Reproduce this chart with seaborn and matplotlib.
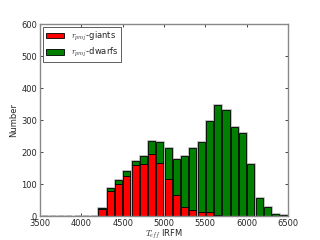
import matplotlib
matplotlib.use("Agg")
import matplotlib.pyplot as plt
from matplotlib.patches import Patch
import numpy as np
import pandas as pd
import seaborn as sns

# histogram bins: 100 K wide from 3500 to 6500
bin_edges = list(range(3500, 6600, 100))
bin_centers = [e + 50 for e in bin_edges[:-1]]

# counts (stacked: giants at the bottom, dwarfs on top)
giants = [0, 0, 0, 0, 0, 0, 0,
          21, 77, 99, 125, 159, 164, 195, 167, 115, 66, 27, 20, 13, 13, 4, 1,
          0, 0, 0, 0, 0, 0, 0]
dwarfs = [0, 0, 0, 0, 0, 0, 0,
          4, 11, 15, 15, 14, 25, 40, 64, 99, 111, 161, 192, 219, 283, 342, 329,
          279, 258, 164, 56, 28, 7, 4]

sns.set_style("ticks")
plt.rcParams["font.family"] = ["DejaVu Sans"]
plt.rcParams["mathtext.fontset"] = "cm"

df = pd.DataFrame({
    "teff": bin_centers * 2,
    "count": giants + dwarfs,
    "group": ["giants"] * len(giants) + ["dwarfs"] * len(dwarfs),
})
total = pd.DataFrame({"teff": bin_centers,
                      "count": [g + d for g, d in zip(giants, dwarfs)]})

fig = plt.figure(figsize=(3.2, 2.4), dpi=100)
ax = fig.add_axes([0.125, 0.1, 0.775, 0.8])

# grey outline behind the stacked bars
sns.histplot(data=total, x="teff", weights="count", bins=bin_edges, shrink=0.85,
             color="#aaaaaa", edgecolor="#aaaaaa", linewidth=1.8, alpha=1, ax=ax)
sns.histplot(data=df, x="teff", weights="count", hue="group",
             hue_order=["dwarfs", "giants"], multiple="stack", bins=bin_edges,
             shrink=0.85, palette={"giants": "red", "dwarfs": "green"},
             edgecolor="black", linewidth=0.6, alpha=1, legend=False, ax=ax)

ax.set_xlim(3500, 6500)
ax.set_ylim(0, 600)
ax.set_xticks(range(3500, 7000, 500))
ax.set_yticks(range(0, 700, 100))
ax.set_xlabel(r"$T_{eff}$ IRFM", fontsize=6, labelpad=0)
ax.set_ylabel("Number", fontsize=6, labelpad=2)
ax.tick_params(direction="in", length=2.5, width=0.6, labelsize=6,
               top=True, right=True, pad=2)
for s in ax.spines.values():
    s.set_linewidth(1.0)
    s.set_color("#888888")

handles = [Patch(facecolor="red", edgecolor="black", linewidth=0.6),
           Patch(facecolor="green", edgecolor="black", linewidth=0.6)]
leg = ax.legend(handles, [r"$r_{pmj}$-giants", r"$r_{pmj}$-dwarfs"],
                loc="upper left", fontsize=6, fancybox=False,
                framealpha=1, borderpad=0.35, handlelength=2.2,
                handletextpad=0.8, labelspacing=0.4, borderaxespad=0.35)
leg.get_frame().set_edgecolor("#444444")
leg.get_frame().set_linewidth(0.6)

fig.savefig("out.png", dpi=100)
